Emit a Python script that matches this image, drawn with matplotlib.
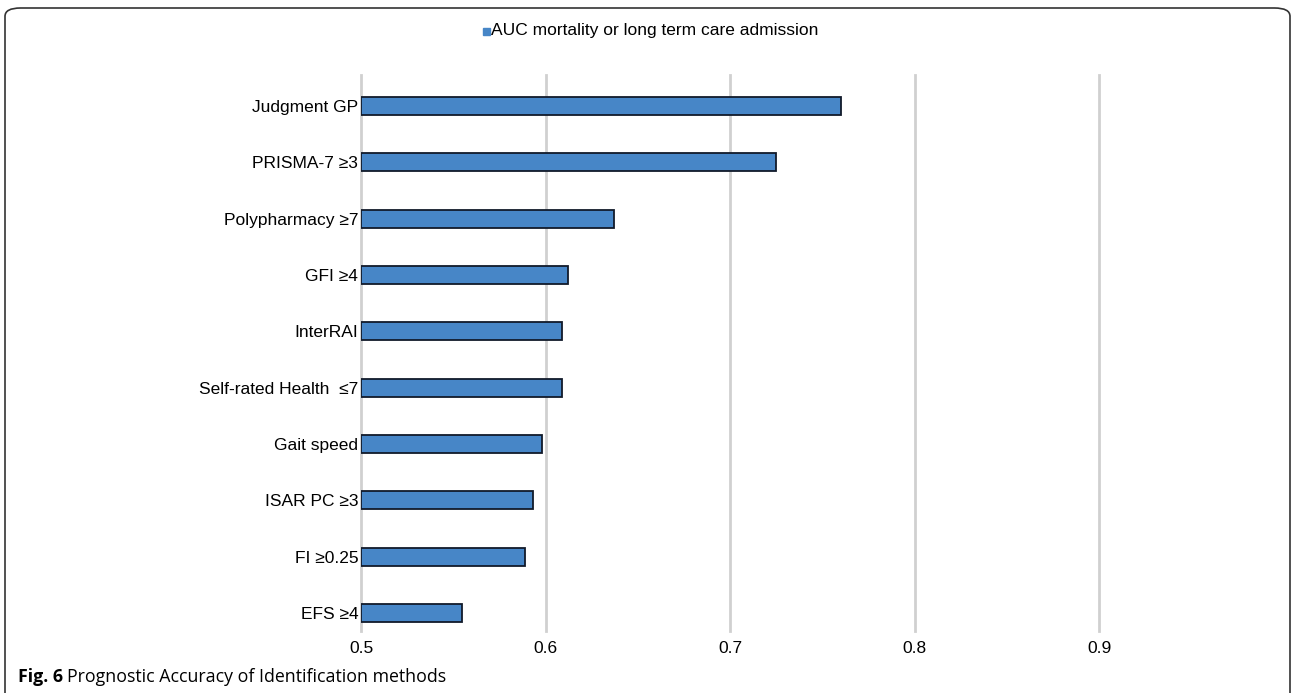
import matplotlib.pyplot as plt
from matplotlib.patches import FancyBboxPatch, Rectangle

# AUC for each identification method, top to bottom
methods = ["Judgment GP", "PRISMA-7 \u22653", "Polypharmacy \u22657", "GFI \u22654",
           "InterRAI", "Self-rated Health  \u22647", "Gait speed", "ISAR PC \u22653",
           "FI \u22650.25", "EFS \u22654"]
auc = [0.760, 0.725, 0.637, 0.612, 0.609, 0.609, 0.598, 0.593, 0.589, 0.555]
xticks = [0.5, 0.6, 0.7, 0.8, 0.9]
series_name = "AUC mortality or long term care admission"

plt.rcParams['font.family'] = ['Liberation Sans', 'DejaVu Sans']
bar_col = "#4786c7"

fig = plt.figure(figsize=(12.95, 6.93), dpi=100)

# rounded frame around the figure panel
frame = FancyBboxPatch((5/1295, -0.2), 1285/1295, 1.2 - 8/693,
                       boxstyle="round,pad=0,rounding_size=0.012",
                       transform=fig.transFigure, fill=False,
                       edgecolor="#333333", linewidth=1.2)
fig.patches.append(frame)

ax = fig.add_axes([361/1295, 1 - 631/693, (1099 - 361)/1295, (631 - 75)/693])
base = 0.5
ypos = list(range(len(methods)))
ax.barh(ypos, [v - base for v in auc], left=base, height=0.32,
        color=bar_col, edgecolor="#111a2a", linewidth=1.3, zorder=3)

ax.set_xlim(0.5, 0.9)
ax.set_ylim(9.32, -0.55)
ax.set_yticks(ypos)
ax.set_yticklabels(methods, fontsize=12.5)
ax.set_xticks(xticks)
ax.set_xticklabels([f"{t:.1f}" for t in xticks], fontsize=12.5)
ax.tick_params(axis='both', length=0)
ax.tick_params(axis='y', pad=2)
ax.tick_params(axis='x', pad=7)
ax.grid(axis='x', color="#d0d0d0", linewidth=2, zorder=0)
ax.set_axisbelow(True)
ax.xaxis.grid(True, clip_on=False)
for s in ax.spines.values():
    s.set_visible(False)

# legend above the plot
fig.patches.append(Rectangle((483/1295, 1 - 35/693), 7/1295, 7/693,
                             transform=fig.transFigure, color=bar_col))
fig.text(491/1295, 1 - 31/693, series_name, fontsize=12.5,
         va='center', ha='left')

# caption: bold label followed by the title
cap = fig.text(18/1295, 1 - 682/693, "Fig. 6", fontsize=12.8, fontweight='bold',
               family=['Open Sans', 'DejaVu Sans'], va='baseline', ha='left')
plt.annotate("Prognostic Accuracy of Identification methods", xy=(1, 0),
             xycoords=cap, xytext=(3, 0), textcoords='offset points',
             fontsize=12.8, family=['Open Sans', 'DejaVu Sans'],
             va='bottom', ha='left', annotation_clip=False)

fig.savefig("out.png", dpi=100)
